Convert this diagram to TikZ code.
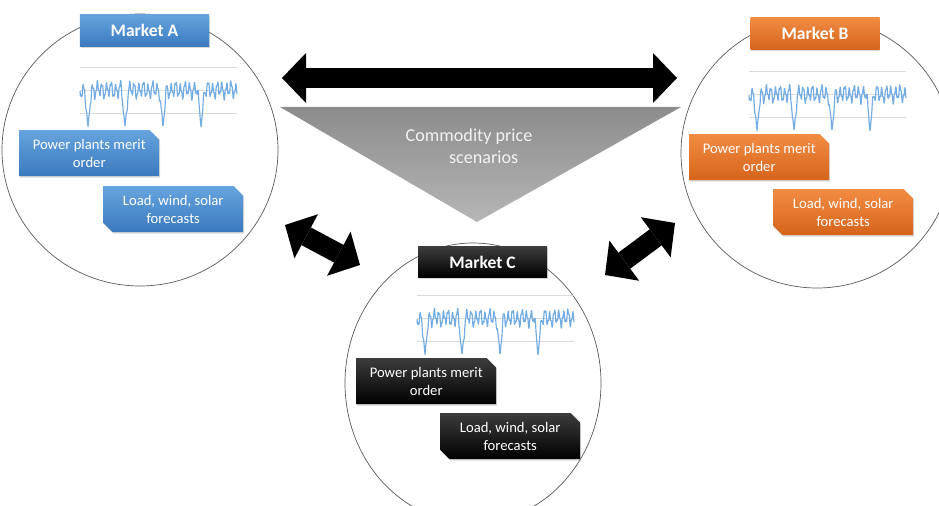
\documentclass[tikz,border=0pt]{standalone}
\usepackage{fontspec}
\setmainfont{Carlito}
\usetikzlibrary{arrows.meta, shapes.misc, shadows}

\definecolor{bluetop}{HTML}{66A4DE}
\definecolor{bluebot}{HTML}{3A79BE}
\definecolor{orangetop}{HTML}{F28C43}
\definecolor{orangebot}{HTML}{D6641B}
\definecolor{darktop}{HTML}{3C3C3C}
\definecolor{tritop}{HTML}{8C8C8C}
\definecolor{tribot}{HTML}{B6B6B6}
\definecolor{sparkblue}{HTML}{72ACE3}
\definecolor{gridgrey}{HTML}{DADADA}

\begin{document}
\begin{tikzpicture}[x=0.03cm, y=-0.03cm,
  declare function={dp(\t)=max(0,1-abs(\t-8)/3.5)+max(0,1-abs(\t-45)/3.5)
    +max(0,1-abs(\t-83)/3.5)+max(0,1-abs(\t-121)/3.5);
    spk(\t)=23+(6*sin(78*\t)+2.5*sin(200*mod(\t,1.8)+30)+2*sin(33*\t))*(1-dp(\t))+37*dp(\t);},
  ring/.style={draw=black!65, line width=0.6pt},
  shadowed/.style={drop shadow={shadow xshift=0.8pt, shadow yshift=-1.2pt, opacity=0.3}},
  mktlabel/.style={shadowed, minimum width=3.87cm, minimum height=0.98cm, inner sep=0pt,
    text=white, font=\fontsize{15}{17}\selectfont\bfseries},
  infobox/.style={shadowed, chamfered rectangle, chamfered rectangle xsep=4pt,
    chamfered rectangle ysep=4pt, minimum width=4.2cm, minimum height=1.38cm,
    inner sep=0pt, anchor=north west, text=white, align=center,
    font=\fontsize{12.5}{15.5}\selectfont},
  snipone/.style={chamfered rectangle corners=north east},
  sniptwo/.style={chamfered rectangle corners={north east, south west}},
  bluefill/.style={top color=bluetop, bottom color=bluebot},
  orangefill/.style={top color=orangetop, bottom color=orangebot},
  darkfill/.style={top color=darktop, bottom color=black},
  fatarrow/.style={line width=0.6cm,
    {Triangle[width=1.5cm, length=0.72cm, line width=0pt]}-{Triangle[width=1.5cm, length=0.72cm, line width=0pt]}}
]
\clip (0,0) rectangle (939,506);

% market circles
\draw[ring] (140,150) circle [x radius=138, y radius=136]; %A
\draw[ring] (817,153) circle [x radius=136, y radius=135]; %B
\draw[ring] (473,383) circle [x radius=128, y radius=140]; %C

% price curves
\foreach \gx/\gy in {80/67, 749/71, 417/295}{
\begin{scope}[shift={(\gx,\gy)}]
\draw[gridgrey, line width=0.6pt] (0,0) -- (157,0) (0,23) -- (157,23) (0,46) -- (157,46);
\draw[sparkblue, line width=1pt, line join=round] plot[domain=0:157, samples=450] (\x, {spk(\x)});
\end{scope}
}

% commodity price scenarios
\shade[top color=tritop, bottom color=tribot] (280,107) -- (681,107) -- (477,222) -- cycle;
\node[text=white!95!black, align=center, font=\fontsize{15.5}{19}\selectfont] (scen) at (469,146) {Commodity price\\\hspace*{25pt}scenarios};

% market labels
\node[mktlabel, bluefill] (mktA) at (144.5,30.5) {Market A};
\node[mktlabel, orangefill] (mktB) at (815,33.5) {Market B};
\node[mktlabel, darkfill, minimum height=0.92cm] (mktC) at (482.5,262) {Market C};

% input boxes
\node[infobox, snipone, bluefill] (meritA) at (19,130) {Power plants merit\\order};
\node[infobox, sniptwo, bluefill] (loadA) at (103,186) {Load, wind, solar\\forecasts};
\node[infobox, snipone, orangefill] (meritB) at (689,134) {Power plants merit\\order};
\node[infobox, sniptwo, orangefill] (loadB) at (773,189) {Load, wind, solar\\forecasts};
\node[infobox, snipone, darkfill] (meritC) at (356,358) {Power plants merit\\order};
\node[infobox, sniptwo, darkfill] (loadC) at (440,413) {Load, wind, solar\\forecasts};

% coupling arrows
\coordinate (ab1) at (282,78);
\coordinate (ab2) at (677,78);
\coordinate (ac1) at (285,225);
\coordinate (ac2) at (360,265);
\coordinate (bc1) at (675,223);
\coordinate (bc2) at (605,275);
\draw[fatarrow] (ab1) -- (ab2); %A-B
\draw[fatarrow] (ac1) -- (ac2); %A-C
\draw[fatarrow] (bc1) -- (bc2); %B-C

\end{tikzpicture}
\end{document}
